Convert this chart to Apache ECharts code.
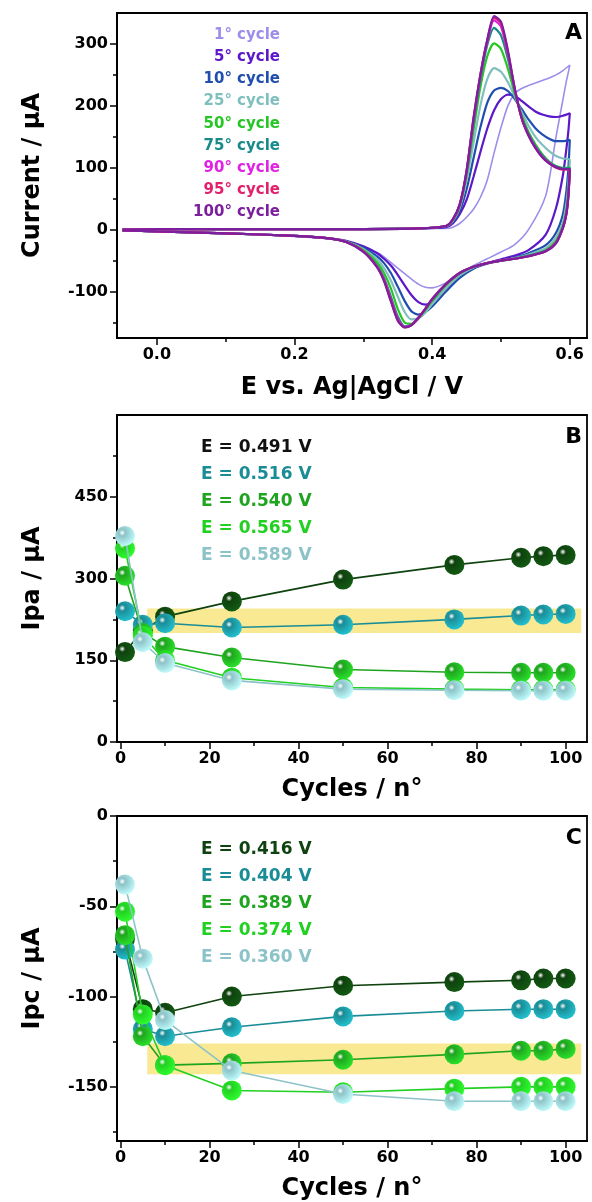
<!DOCTYPE html>
<html><head><meta charset="utf-8">
<script src="https://cdn.jsdelivr.net/npm/echarts@6/dist/echarts.min.js"></script>
<style>html,body{margin:0;padding:0;background:#fff}#c{width:592px;height:1202px}</style>
</head><body><div id="c"></div>
<script>
// ---------- Panel A : cyclic voltammograms ----------
const cvNames = ['1° cycle','5° cycle','10° cycle','25° cycle','50° cycle','75° cycle','90° cycle','95° cycle','100° cycle'];
const cvColors = ['#9C8EEA','#5B17C9','#1F4EAE','#7FBFBD','#26C626','#188A8A','#E022E4','#E3206C','#7B1F9E'];
const fwdE = [-0.05,0.0,0.1,0.2,0.3,0.38,0.42,0.43,0.44,0.45,0.46,0.47,0.48,0.49,0.50,0.51,0.52,0.53,0.54,0.55,0.56,0.57,0.58,0.59,0.60];
const revE = [0.60,0.598,0.595,0.59,0.58,0.565,0.54,0.52,0.50,0.48,0.46,0.44,0.42,0.40,0.39,0.38,0.37,0.36,0.35,0.34,0.33,0.32,0.30,0.275,0.25,0.20,0.10,0.0,-0.05];
const fwd1   = [0,1,1,1,1,2,2,4,10,20,33,52,80,124,165,200,220,228,233,237,241,245,250,257,266];
const fwd5   = [0,1,1,1,1,2,4,10,25,48,85,125,163,193,211,218,216,208,199,191,186,183,182,184,188];
const fwd10  = [0,1,1,1,1,2,5,12,30,65,115,165,205,225,229,224,211,195,178,164,154,147,143,143,145];
const fwd25  = [0,1,1,1,1,2,6,14,35,80,140,200,243,261,255,238,215,190,168,150,137,127,119,115,113];
const fwd50  = [0,1,1,1,1,2,6,15,38,88,160,230,280,301,292,260,220,185,158,138,122,110,103,100,100];
const fwd75  = [0,1,1,1,1,2,6,16,40,92,170,242,298,326,314,276,225,182,155,135,120,109,102,99,99];
const fwd90  = [0,1,1,1,1,2,6,16,40,94,176,248,304,338,328,284,227,181,153,133,118,108,101,98,98];
const fwd95  = [0,1,1,1,1,2,6,16,40,95,178,250,306,342,333,287,228,180,152,132,117,107,100,97,97];
const fwd100 = [0,1,1,1,1,2,6,17,41,95,180,250,306,345,336,290,228,180,152,132,117,107,101,98,98];
const rev1   = [266,255,240,210,150,55,0,-24,-36,-47,-58,-72,-86,-94,-93,-88,-80,-71,-62,-53,-44,-37,-27,-19,-15,-11,-6,-3,-1];
const rev5   = [188,160,130,88,35,-8,-33,-42,-48,-54,-62,-76,-96,-117,-121,-117,-106,-90,-73,-58,-47,-38,-27,-18,-14,-10,-6,-3,-1];
const rev10  = [145,100,62,25,-5,-25,-38,-45,-50,-55,-63,-78,-100,-124,-133,-137,-132,-115,-92,-70,-54,-43,-29,-19,-14,-10,-6,-3,-1];
const rev25  = [113,75,42,12,-12,-30,-40,-46,-50,-54,-61,-74,-95,-120,-134,-143,-145,-133,-108,-82,-62,-48,-31,-19,-14,-10,-6,-3,-1];
const rev50  = [100,62,30,6,-18,-33,-42,-47,-50,-54,-60,-71,-90,-115,-130,-144,-152,-150,-128,-95,-70,-53,-33,-20,-14,-10,-6,-3,-1];
const rev75  = [99,58,27,4,-20,-34,-42,-47,-50,-54,-60,-70,-88,-113,-128,-143,-154,-156,-140,-108,-78,-58,-35,-20,-14,-10,-6,-3,-1];
const rev90  = [98,56,26,3,-21,-35,-43,-47,-50,-54,-60,-70,-88,-112,-128,-143,-154,-157,-144,-112,-80,-60,-35,-20,-14,-10,-6,-3,-1];
const rev95  = [97,55,25,3,-21,-35,-43,-47,-50,-54,-60,-70,-88,-112,-128,-142,-154,-158,-146,-114,-82,-60,-35,-20,-14,-10,-6,-3,-1];
const rev100 = [98,55,25,3,-22,-35,-43,-47,-50,-54,-60,-70,-88,-112,-128,-142,-154,-158,-147,-116,-83,-61,-36,-20,-14,-10,-6,-3,-1];
const fwdAll = [fwd1,fwd5,fwd10,fwd25,fwd50,fwd75,fwd90,fwd95,fwd100];
const revAll = [rev1,rev5,rev10,rev25,rev50,rev75,rev90,rev95,rev100];
const aXLabels = [0,0.2,0.4,0.6];
const aXMinor = [0.1,0.3,0.5];
const aYLabels = [-100,0,100,200,300];
const aYMinor = [-150,-50,50,150,250];

// ---------- Panels B and C ----------
const cycles = [1,5,10,25,50,75,90,95,100];
const ptColors = ['#0E420E','#1A8C96','#1FA41F','#22D022','#8CC3C8'];
const ipaNames = ['E = 0.491 V','E = 0.516 V','E = 0.540 V','E = 0.565 V','E = 0.589 V'];
const ipa491 = [165,205,230,258,298,325,338,341,343];
const ipa516 = [240,215,218,210,215,225,232,234,235];
const ipa540 = [305,200,175,155,133,128,127,127,127];
const ipa565 = [355,195,150,118,100,97,96,96,96];
const ipa589 = [378,183,145,113,97,95,94,94,94];
const ipcNames = ['E = 0.416 V','E = 0.404 V','E = 0.389 V','E = 0.374 V','E = 0.360 V'];
const ipc416 = [-68,-107,-109,-100,-94,-92,-91,-90,-90];
const ipc404 = [-74,-118,-122,-117,-111,-108,-107,-107,-107];
const ipc389 = [-66,-122,-138,-137,-135,-132,-130,-130,-129];
const ipc374 = [-53,-110,-138,-152,-153,-151,-150,-150,-150];
const ipc360 = [-38,-79,-113,-141,-154,-158,-158,-158,-158];
const bandB = [[6,200],[103.5,245]];
const bandC = [[6,-126],[103.5,-143]];
const cycXLabels = [0,20,40,60,80,100];
const cycXMinor = [10,30,50,70,90];
const cYLabels = [-150,-100,-50,0];
const cYMinor = [-175,-125,-75,-25];

const FONT = '"DejaVu Sans", "Liberation Sans", sans-serif';
const chart = echarts.init(document.getElementById('c'), null, {renderer:'canvas'});

function gridDef(top, h){ return {left:117, top:top, width:470, height:h, show:true, borderColor:'#000', borderWidth:1.8, backgroundColor:'transparent'}; }
const lbl = {color:'#000', fontFamily:FONT, fontWeight:'bold', fontSize:16};
const nameStyle = {color:'#000', fontFamily:FONT, fontWeight:'bold', fontSize:24};
const axLine = {show:true, onZero:false, lineStyle:{color:'#000', width:2}};

function majorX(gi, min, max, vals, fmt, name, gap){
  return {type:'value', gridIndex:gi, min:min, max:max, position:'bottom',
    axisLine:axLine, splitLine:{show:false},
    axisTick:{show:true, customValues:vals, length:7, lineStyle:{color:'#000', width:1.5}},
    axisLabel:Object.assign({customValues:vals, formatter:fmt, margin:9}, lbl),
    name:name, nameLocation:'middle', nameGap:gap, nameTextStyle:nameStyle};
}
function minorX(gi, min, max, vals){
  return {type:'value', gridIndex:gi, min:min, max:max, position:'bottom',
    axisLine:{show:false, onZero:false}, splitLine:{show:false}, axisLabel:{show:false},
    axisTick:{show:true, customValues:vals, length:4, lineStyle:{color:'#000', width:1.5}}};
}
function majorY(gi, min, max, vals, name, gap){
  return {type:'value', gridIndex:gi, min:min, max:max, position:'left',
    axisLine:axLine, splitLine:{show:false},
    axisTick:{show:true, customValues:vals, length:7, lineStyle:{color:'#000', width:1.5}},
    axisLabel:Object.assign({customValues:vals, margin:9}, lbl),
    name:name, nameLocation:'middle', nameGap:gap, nameTextStyle:nameStyle};
}
function minorY(gi, min, max, vals){
  return {type:'value', gridIndex:gi, min:min, max:max, position:'left',
    axisLine:{show:false, onZero:false}, splitLine:{show:false}, axisLabel:{show:false},
    axisTick:{show:true, customValues:vals, length:4, lineStyle:{color:'#000', width:1.5}}};
}

const series = [];
cvNames.forEach((n,i)=>{
  const data = fwdE.map((e,k)=>[e, fwdAll[i][k]]).concat(revE.map((e,k)=>[e, revAll[i][k]]));
  series.push({type:'line', name:n, xAxisIndex:0, yAxisIndex:0, data:data, showSymbol:false,
    smooth:0.25, lineStyle:{color:cvColors[i], width: i===0 ? 1.6 : 2.2}, z:10+i, silent:true});
});
function ball(c){
  return {type:'radial', x:0.36, y:0.34, r:0.72, colorStops:[
    {offset:0, color:'#ffffff'}, {offset:0.22, color:c}, {offset:1, color:echarts.color.lift(c, -0.4)}]};
}
function addPanel(xi, yi, arrays, band){
  arrays.forEach((arr,i)=>{
    const s = {type:'line', xAxisIndex:xi, yAxisIndex:yi, data:cycles.map((c,k)=>[c, arr[k]]),
      symbol:'circle', symbolSize:20, showSymbol:true,
      lineStyle:{color:ptColors[i], width:1.6},
      itemStyle:{color:ball(ptColors[i]), borderWidth:0}, z:10+i, silent:true};
    if(i===0){
      s.markArea = {silent:true, itemStyle:{color:'rgba(245,226,110,0.75)'}, data:[[{coord:band[0]},{coord:band[1]}]], z:1};
    }
    series.push(s);
  });
}
addPanel(2, 2, [ipa491,ipa516,ipa540,ipa565,ipa589], bandB);
addPanel(4, 4, [ipc416,ipc404,ipc389,ipc374,ipc360], bandC);

const graphics = [];
cvNames.forEach((n,i)=>{
  graphics.push({type:'text', x:280, y:35+i*22.2, style:{text:n, fill:cvColors[i], font:'bold 15px '+FONT, align:'right', verticalAlign:'middle'}});
});
ipaNames.forEach((n,i)=>{
  graphics.push({type:'text', x:201, y:448+i*26.8, style:{text:n, fill: i===0 ? '#111' : ptColors[i], font:'bold 17px '+FONT, align:'left', verticalAlign:'middle'}});
});
ipcNames.forEach((n,i)=>{
  graphics.push({type:'text', x:201, y:850+i*26.8, style:{text:n, fill:ptColors[i], font:'bold 17px '+FONT, align:'left', verticalAlign:'middle'}});
});
[['A',33],['B',437],['C',838]].forEach(p=>{
  graphics.push({type:'text', x:582, y:p[1], style:{text:p[0], fill:'#000', font:'bold 22px '+FONT, align:'right', verticalAlign:'middle'}});
});

chart.setOption({
  animation:false,
  backgroundColor:'#fff',
  grid:[gridDef(13,325), gridDef(415,327), gridDef(816,326)],
  xAxis:[
    majorX(0,-0.058,0.625,aXLabels,v=>v.toFixed(1),'E vs. Ag|AgCl / V',38),
    minorX(0,-0.058,0.625,aXMinor),
    majorX(1,-0.8,104.8,cycXLabels,v=>String(v),'Cycles / n°',36),
    minorX(1,-0.8,104.8,cycXMinor),
    majorX(2,-0.8,104.8,cycXLabels,v=>String(v),'Cycles / n°',36),
    minorX(2,-0.8,104.8,cycXMinor)
  ],
  yAxis:[
    majorY(0,-175,350,aYLabels,'Current / μA',72),
    minorY(0,-175,350,aYMinor),
    majorY(1,0,600,[0,150,300,450],'Ipa / μA',72),
    minorY(1,0,600,[75,225,375,525]),
    majorY(2,-180,0,cYLabels,'Ipc / μA',72),
    minorY(2,-180,0,cYMinor)
  ],
  series:series,
  graphic:graphics
});
</script></body></html>
